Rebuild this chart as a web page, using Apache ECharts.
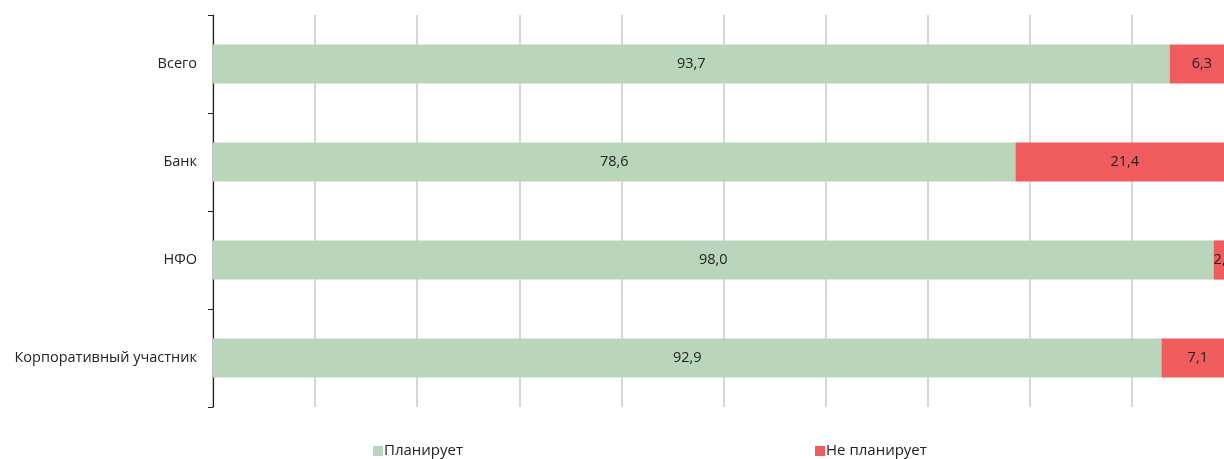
<!DOCTYPE html>
<html>
<head>
<meta charset="utf-8">
<script src="https://cdn.jsdelivr.net/npm/echarts@6/dist/echarts.min.js"></script>
<style>html,body{margin:0;padding:0;background:#fff;overflow:hidden;width:1224px;height:459px;}#c{width:1234px;height:459px;}</style>
</head>
<body>
<div id="c"></div>
<script>
var categories = ['Всего', 'Банк', 'НФО', 'Корпоративный участник'];
var plans = [93.7, 78.6, 98.0, 92.9];
var notPlans = [6.3, 21.4, 2.0, 7.1];
var seriesNames = ['Планирует', 'Не планирует'];

var fmt = function (p) { return p.value.toFixed(1).replace('.', ','); };
var chart = echarts.init(document.getElementById('c'), null, {renderer: 'canvas'});
chart.setOption({
  animation: false,
  textStyle: {fontFamily: 'Open Sans, sans-serif'},
  grid: {left: 213, right: 0, top: 15, height: 392, containLabel: false},
  legend: {
    top: 441, left: 373, padding: 0,
    itemWidth: 10, itemHeight: 10, itemGap: 352,
    icon: 'rect',
    textStyle: {fontSize: 15, lineHeight: 20, color: '#222', fontFamily: 'Open Sans, sans-serif', padding: [0, 0, 0, -4]},
    data: seriesNames
  },
  xAxis: {
    type: 'value', min: 0, max: 100, interval: 10,
    axisLabel: {show: false}, axisTick: {show: false}, axisLine: {show: false},
    splitLine: {show: true, lineStyle: {color: '#c8c8c8', width: 1.5}}
  },
  yAxis: {
    type: 'category', data: categories, inverse: true,
    axisLine: {show: true, lineStyle: {color: '#222', width: 1.2}},
    axisTick: {show: true, length: 5, lineStyle: {color: '#222'}},
    axisLabel: {fontSize: 14.5, color: '#222', margin: 16}
  },
  series: [
    {name: seriesNames[0], type: 'bar', stack: 's', data: plans, barWidth: '40%',
     itemStyle: {color: '#b9d6bb'},
     label: {show: true, position: 'inside', formatter: fmt, fontSize: 14.5, color: '#222'}},
    {name: seriesNames[1], type: 'bar', stack: 's', data: notPlans, barWidth: '40%',
     itemStyle: {color: '#f05c5e'},
     label: {show: true, position: 'inside', formatter: fmt, fontSize: 14.5, color: '#222'}}
  ]
});
</script>
</body>
</html>
